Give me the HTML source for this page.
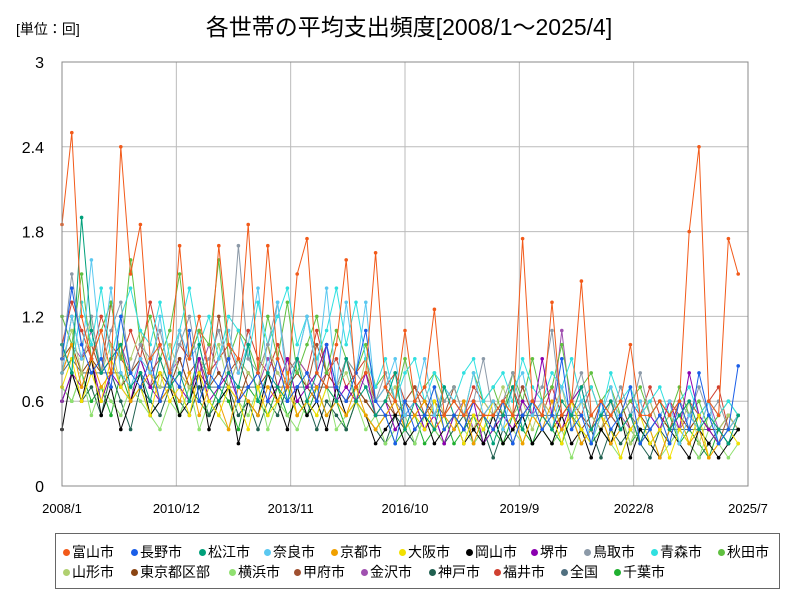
<!DOCTYPE html>
<html><head><meta charset="utf-8">
<style>
body{margin:0;background:#fff;width:800px;height:600px;overflow:hidden;font-family:"Liberation Sans","Noto Sans CJK JP",sans-serif;}
#legend{position:absolute;left:55px;top:533px;width:725px;height:56px;border:1px solid #666;box-sizing:border-box;font-size:14px;}
.lg{position:absolute;white-space:nowrap;line-height:16px;}
.dot{display:inline-block;width:7px;height:7px;border-radius:50%;margin-right:2px;vertical-align:middle;position:relative;top:-1px;}
</style></head><body>
<svg id="chart" width="800" height="600" style="position:absolute;left:0;top:0" font-family="Liberation Sans, Noto Sans CJK JP, sans-serif">
<text x="16" y="34" font-size="14">[単位：回]</text>
<text x="409" y="35" font-size="23" text-anchor="middle">各世帯の平均支出頻度[2008/1～2025/4]</text>
<g id="grid"></g><g id="series"></g><g id="axes"></g>
</svg>
<div id="legend"></div>
<script>
const names=["富山市","長野市","松江市","奈良市","京都市","大阪市","岡山市","堺市","鳥取市","青森市","秋田市","山形市","東京都区部","横浜市","甲府市","金沢市","神戸市","福井市","全国","千葉市"];
const colors=["#f25a1a","#1a5ee8","#00a07a","#5bc8f0","#f0a000","#f2e000","#000000","#8b00b0","#8c9aa8","#30e0e0","#60c040","#b0d070","#8b4513","#90e070","#a05030","#a050b0","#206050","#d04030","#507080","#20b030"];
const yTicks=[0,0.6,1.2,1.8,2.4,3];
const xTicks=["2008/1","2010/12","2013/11","2016/10","2019/9","2022/8","2025/7"];
const xTickMonths=[0,35,70,105,140,175,210];
const toyama=[1.85,2.5,1.2,0.9,1.1,0.8,2.4,1.5,1.85,0.9,1.0,0.8,1.7,0.9,1.2,0.8,1.7,1.0,0.9,1.85,0.8,1.7,0.9,0.7,1.5,1.75,0.8,0.7,1.0,1.6,0.7,0.8,1.65,0.7,0.6,1.1,0.6,0.7,1.25,0.5,0.6,0.5,0.6,0.5,0.5,0.6,0.5,1.75,0.6,0.5,1.3,0.5,0.6,1.45,0.5,0.6,0.5,0.6,1.0,0.5,0.5,0.6,0.5,0.6,1.8,2.4,0.6,0.5,1.75,1.5];
const nagano=[0.9,1.4,1.0,0.8,0.9,0.7,1.2,0.8,0.7,0.9,0.6,0.8,0.7,1.1,0.6,0.8,0.7,0.9,0.6,0.7,0.8,0.6,0.9,0.6,0.7,0.8,0.6,1.0,0.7,0.6,0.8,1.1,0.6,0.5,0.3,0.6,0.4,0.5,0.7,0.4,0.5,0.4,0.6,0.5,0.4,0.6,0.3,0.5,0.6,0.4,0.5,0.9,0.4,0.5,0.3,0.6,0.4,0.5,0.7,0.3,0.4,0.5,0.3,0.6,0.4,0.8,0.5,0.3,0.4,0.85];
const matsue=[1.0,0.8,1.9,1.1,0.8,0.9,1.0,0.7,0.8,0.6,0.9,0.7,0.8,0.6,1.0,0.7,0.6,0.8,0.7,1.0,0.6,0.8,0.7,0.6,0.9,0.6,0.8,0.7,0.6,0.9,0.6,0.7,0.5,0.6,0.8,0.4,0.6,0.5,0.4,0.7,0.5,0.4,0.6,0.5,0.3,0.5,0.7,0.4,0.6,0.5,0.4,0.6,0.5,0.7,0.4,0.5,0.6,0.4,0.5,0.3,0.5,0.6,0.4,0.5,0.6,0.4,0.5,0.4,0.3,0.5];
const nara=[0.8,1.2,0.9,1.6,0.9,1.4,0.8,0.7,0.9,0.8,1.2,0.7,1.1,0.9,1.0,0.7,0.9,1.1,0.8,1.0,1.4,0.8,1.3,0.7,0.9,1.2,0.8,1.4,0.7,1.3,0.8,1.3,0.6,0.7,0.9,0.5,0.6,0.9,0.5,0.7,0.6,0.5,0.8,0.5,0.6,0.4,0.7,0.8,0.5,0.6,0.4,0.7,0.5,0.6,0.3,0.5,0.7,0.4,0.5,0.6,0.4,0.5,0.6,0.3,0.5,0.4,0.6,0.3,0.4,0.5];
const kyoto=[0.8,1.0,0.7,0.9,0.7,0.8,1.0,0.6,0.7,0.8,0.6,0.7,0.6,0.8,0.5,0.7,0.6,0.4,0.7,0.6,0.5,0.7,0.6,0.8,0.5,0.6,0.7,0.5,0.6,0.5,0.7,0.5,0.4,0.5,0.6,0.4,0.5,0.6,0.4,0.5,0.4,0.6,0.3,0.5,0.4,0.6,0.5,0.3,0.5,0.4,0.6,0.4,0.5,0.3,0.4,0.5,0.3,0.4,0.5,0.3,0.4,0.2,0.4,0.5,0.3,0.4,0.2,0.3,0.4,0.5];
const osaka=[0.7,0.9,0.6,0.8,0.6,0.9,0.7,0.6,0.7,0.5,0.8,0.6,0.7,0.5,0.8,0.6,0.5,0.7,0.6,0.4,0.7,0.5,0.6,0.7,0.5,0.6,0.5,0.7,0.6,0.5,0.6,0.5,0.4,0.5,0.6,0.4,0.5,0.4,0.6,0.4,0.5,0.3,0.5,0.4,0.6,0.4,0.5,0.3,0.5,0.4,0.5,0.3,0.6,0.4,0.3,0.5,0.4,0.2,0.4,0.5,0.3,0.4,0.2,0.4,0.3,0.5,0.2,0.3,0.4,0.3];
const okayama=[0.4,0.8,0.6,0.9,0.5,0.7,0.4,0.6,0.8,0.5,0.6,0.7,0.5,0.6,0.8,0.4,0.6,0.7,0.3,0.6,0.5,0.8,0.6,0.4,0.7,0.5,0.6,0.4,0.7,0.5,0.6,0.5,0.3,0.4,0.5,0.3,0.4,0.5,0.3,0.4,0.5,0.3,0.4,0.3,0.5,0.3,0.4,0.5,0.3,0.4,0.3,0.5,0.3,0.4,0.2,0.4,0.3,0.5,0.2,0.4,0.3,0.2,0.4,0.3,0.2,0.4,0.3,0.2,0.3,0.4];
const sakai=[0.6,0.8,0.7,0.9,0.6,0.8,0.7,0.6,0.9,0.7,0.6,0.8,0.7,0.6,0.9,0.6,0.7,0.8,0.6,0.7,0.8,0.6,0.7,0.9,0.6,0.7,0.8,1.0,0.6,0.7,0.6,0.8,0.5,0.6,0.4,0.5,0.6,0.4,0.5,0.3,0.5,0.4,0.6,0.3,0.4,0.5,0.4,0.6,0.5,0.9,0.5,0.4,0.6,0.7,0.4,0.5,0.6,0.4,0.5,0.3,0.5,0.4,0.6,0.4,0.8,0.5,0.4,0.3,0.4,0.5];
const tottori=[0.9,1.5,1.0,1.2,0.8,1.1,1.3,0.8,1.0,0.9,1.1,0.8,1.0,1.2,0.8,0.9,1.1,0.8,1.7,0.9,0.8,1.0,1.3,0.8,0.9,1.2,0.8,1.0,0.7,0.9,0.8,0.7,0.6,0.8,0.6,0.5,0.6,0.7,0.5,0.6,0.7,0.5,0.6,0.9,0.5,0.6,0.8,0.5,0.6,0.7,1.1,0.5,0.6,0.8,0.5,0.6,0.5,0.7,0.5,0.8,0.5,0.6,0.5,0.6,0.5,0.7,0.5,0.6,0.4,0.5];
const aomori=[1.0,0.8,1.3,1.0,1.4,0.9,1.2,1.4,1.1,1.0,1.3,0.9,1.1,1.4,1.0,1.2,0.9,1.2,1.1,0.9,1.3,1.0,1.2,1.4,1.0,1.2,0.9,1.1,1.4,1.0,1.3,0.9,0.7,0.9,0.6,0.8,0.9,0.6,0.8,0.7,0.6,0.8,0.9,0.6,0.7,0.8,0.6,0.9,0.7,0.6,0.8,0.7,0.9,0.6,0.7,0.5,0.8,0.6,0.7,0.5,0.6,0.7,0.5,0.6,0.7,0.5,0.6,0.5,0.6,0.5];
const akita=[1.2,1.0,1.5,0.9,1.1,1.3,0.9,1.6,1.0,1.2,0.9,1.1,1.5,0.9,1.1,1.0,1.6,0.9,1.1,1.0,0.8,1.2,0.9,1.3,0.8,1.0,1.2,0.8,1.1,0.9,0.8,1.0,0.7,0.8,0.6,0.9,0.6,0.7,0.8,0.6,0.7,0.5,0.8,0.6,0.7,0.5,0.8,0.6,0.9,0.6,0.7,1.0,0.6,0.7,0.8,0.6,0.7,0.5,0.6,0.7,0.5,0.6,0.5,0.7,0.5,0.6,0.4,0.5,0.6,0.5];
const yamagata=[0.9,1.1,0.8,1.2,0.8,1.0,0.7,0.9,1.1,0.8,0.7,1.0,0.8,0.7,0.9,0.8,1.0,0.7,0.9,0.8,0.7,1.0,0.8,0.7,0.9,0.7,0.8,1.0,0.7,0.8,0.6,0.9,0.5,0.6,0.7,0.5,0.6,0.5,0.7,0.5,0.6,0.5,0.4,0.6,0.5,0.7,0.5,0.6,0.4,0.6,0.5,0.7,0.4,0.6,0.5,0.4,0.6,0.5,0.3,0.5,0.6,0.4,0.5,0.4,0.6,0.3,0.5,0.4,0.5,0.4];
const tokyo=[0.9,1.0,0.8,0.9,0.8,0.9,0.7,0.8,0.9,0.7,0.8,0.7,0.9,0.7,0.8,0.7,0.8,0.7,0.6,0.8,0.7,0.8,0.6,0.7,0.8,0.7,0.6,0.8,0.7,0.6,0.7,0.6,0.5,0.6,0.5,0.6,0.5,0.6,0.5,0.5,0.6,0.5,0.4,0.5,0.6,0.5,0.4,0.5,0.6,0.5,0.4,0.5,0.6,0.4,0.5,0.4,0.5,0.6,0.4,0.5,0.4,0.5,0.4,0.5,0.4,0.5,0.4,0.4,0.5,0.4];
const yokohama=[0.7,0.6,0.8,0.5,0.7,0.6,0.5,0.7,0.6,0.5,0.4,0.6,0.5,0.7,0.4,0.6,0.5,0.4,0.6,0.5,0.7,0.4,0.6,0.5,0.4,0.6,0.5,0.7,0.4,0.5,0.6,0.4,0.5,0.3,0.4,0.5,0.3,0.5,0.4,0.3,0.5,0.4,0.3,0.4,0.5,0.3,0.4,0.3,0.5,0.4,0.3,0.4,0.2,0.4,0.3,0.5,0.3,0.2,0.4,0.3,0.4,0.2,0.3,0.4,0.3,0.2,0.4,0.3,0.2,0.3];
const kofu=[0.8,1.2,0.9,1.0,0.8,1.3,0.9,0.8,1.0,0.8,0.9,0.7,1.1,0.8,0.9,0.7,1.2,0.8,0.9,0.7,0.8,1.0,0.7,0.9,0.8,0.7,1.0,0.8,0.7,0.9,0.7,0.8,0.6,0.7,0.5,0.6,0.7,0.5,0.6,0.5,0.7,0.5,0.6,0.5,0.4,0.6,0.5,0.7,0.5,0.6,0.4,0.5,0.6,0.5,0.4,0.6,0.5,0.4,0.5,0.6,0.4,0.5,0.4,0.6,0.4,0.5,0.4,0.3,0.5,0.4];
const kanazawa=[0.8,1.0,0.9,1.1,0.8,0.9,1.0,0.8,0.9,0.7,1.0,0.8,0.9,0.7,0.8,1.0,0.8,0.7,0.9,0.8,0.7,0.9,0.8,0.7,0.9,0.8,0.7,0.8,0.7,0.9,0.7,0.8,0.6,0.5,0.6,0.5,0.6,0.4,0.5,0.3,0.5,0.6,0.4,0.5,0.6,0.4,0.5,0.7,0.5,0.6,0.5,1.1,0.5,0.6,0.5,0.4,0.6,0.5,0.4,0.5,0.6,0.4,0.5,0.4,0.5,0.4,0.6,0.4,0.5,0.4];
const kobe=[0.6,0.8,0.6,0.7,0.5,0.8,0.6,0.4,0.7,0.6,0.5,0.7,0.6,0.5,0.7,0.5,0.6,0.7,0.5,0.6,0.4,0.6,0.5,0.7,0.5,0.6,0.4,0.6,0.5,0.4,0.6,0.5,0.4,0.3,0.5,0.4,0.3,0.5,0.4,0.3,0.4,0.5,0.3,0.4,0.2,0.4,0.3,0.5,0.3,0.4,0.3,0.4,0.5,0.3,0.4,0.2,0.4,0.3,0.4,0.3,0.2,0.4,0.3,0.4,0.3,0.2,0.3,0.4,0.3,0.4];
const fukui=[1.0,1.3,1.1,0.9,1.2,1.0,0.9,1.1,0.9,1.3,1.0,0.8,1.0,0.9,1.1,0.8,0.9,1.0,0.8,1.1,0.9,0.8,1.0,0.8,0.9,0.8,1.1,0.8,0.9,0.7,0.8,0.9,0.6,0.7,0.8,0.6,0.7,0.6,0.5,0.7,0.6,0.5,0.7,0.6,0.5,0.6,0.7,0.5,0.6,0.5,0.7,0.5,0.6,0.5,0.7,0.5,0.6,0.5,0.6,0.5,0.7,0.5,0.6,0.5,0.6,0.5,0.6,0.7,0.4,0.5];
const zenkoku=[0.8,0.9,0.8,0.8,0.8,0.8,0.8,0.7,0.8,0.7,0.7,0.7,0.8,0.7,0.7,0.7,0.7,0.7,0.7,0.7,0.7,0.7,0.7,0.7,0.7,0.7,0.7,0.7,0.7,0.6,0.7,0.6,0.5,0.5,0.5,0.5,0.5,0.5,0.5,0.5,0.5,0.5,0.5,0.5,0.5,0.5,0.5,0.5,0.5,0.5,0.5,0.5,0.5,0.5,0.4,0.5,0.5,0.4,0.5,0.4,0.4,0.5,0.4,0.4,0.4,0.4,0.4,0.4,0.4,0.4];
const chiba=[0.7,0.6,0.8,0.6,0.7,0.5,0.8,0.6,0.7,0.5,0.6,0.8,0.5,0.7,0.6,0.5,0.7,0.6,0.4,0.7,0.6,0.5,0.7,0.5,0.6,0.5,0.7,0.5,0.6,0.4,0.6,0.5,0.4,0.5,0.3,0.4,0.5,0.3,0.4,0.5,0.3,0.4,0.5,0.3,0.4,0.3,0.5,0.4,0.3,0.5,0.4,0.3,0.5,0.4,0.3,0.4,0.3,0.5,0.3,0.4,0.3,0.4,0.5,0.3,0.4,0.3,0.2,0.4,0.3,0.4];
const seriesData=[toyama,nagano,matsue,nara,kyoto,osaka,okayama,sakai,tottori,aomori,akita,yamagata,tokyo,yokohama,kofu,kanazawa,kobe,fukui,zenkoku,chiba];

const NS="http://www.w3.org/2000/svg";
const X0=62,X1=748,Y0=486,Y1=62;
function xScale(m){return X0+m*(X1-X0)/210;}
function yScale(v){return Y0-v*(Y0-Y1)/3;}
function mk(tag,attrs,parent){const e=document.createElementNS(NS,tag);for(const k in attrs)e.setAttribute(k,attrs[k]);parent.appendChild(e);return e;}
const grid=document.getElementById('grid'),axes=document.getElementById('axes'),sg=document.getElementById('series');
yTicks.forEach(v=>{
  const l=mk('line',{x1:X0,x2:X1,y1:yScale(v),y2:yScale(v),stroke:'#bbb','stroke-width':1},grid);
  
  
  const t=mk('text',{x:44,y:yScale(v)+6,'font-size':16,'text-anchor':'end'},axes);
  t.textContent=String(v);
  
  
});
xTicks.forEach((lab,i)=>{
  const x=xScale(xTickMonths[i]);
  const l=mk('line',{x1:x,x2:x,y1:Y1,y2:Y0,stroke:'#bbb','stroke-width':1},grid);
  
  
  const t=mk('text',{x:x,y:513,'font-size':13,'text-anchor':'middle'},axes);
  t.textContent=lab;
  
  
});
const frame=mk('rect',{x:X0,y:Y1,width:X1-X0,height:Y0-Y1,fill:'none',stroke:'#888'},axes);


for(let s=seriesData.length-1;s>=0;s--){
  const d=seriesData[s];
  const g=mk('g',{},sg);
  
  
  const pts=d.map((v,i)=>xScale(i*3)+','+yScale(v)).join(' ');
  mk('polyline',{points:pts,fill:'none',stroke:colors[s],'stroke-width':1},g);
  d.forEach((v,i)=>{
    const c=mk('circle',{cx:xScale(i*3),cy:yScale(v),r:1.8,fill:colors[s]},g);
    
    
  });
}
const lg=document.getElementById('legend');
const row1x=[7,75,143,208,275,343,410,475,528,595,662];
const row2x=[7,75,173,238,305,373,438,505,558];
names.forEach((n,i)=>{
  const e=document.createElement('div');
  e.className='lg';
  
  
  const r=i<11?0:1;
  e.style.left=(r?row2x[i-11]:row1x[i])+'px';
  e.style.top=(r?30:10)+'px';
  e.innerHTML='<span class="dot" style="background:'+colors[i]+'"></span>'+n;
  lg.appendChild(e);
});
</script>
</body></html>
